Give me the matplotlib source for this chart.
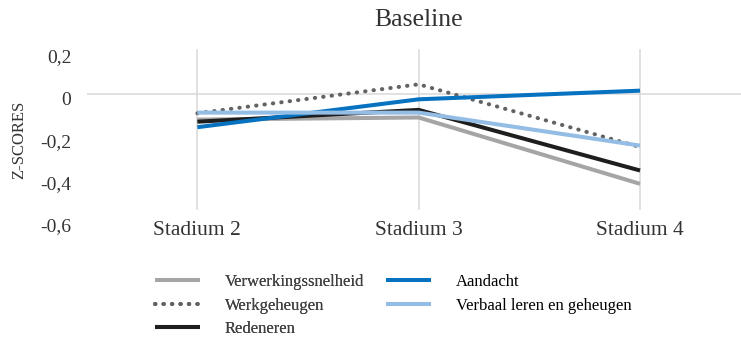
import matplotlib.pyplot as plt
from matplotlib.lines import Line2D
from matplotlib.transforms import ScaledTranslation

# data
stadia = ["Stadium 2", "Stadium 3", "Stadium 4"]
verwerkingssnelheid = [-0.12, -0.11, -0.424]
werkgeheugen = [-0.09, 0.047, -0.25]
redeneren = [-0.13, -0.074, -0.361]
aandacht = [-0.156, -0.024, 0.017]
verbaal = [-0.087, -0.087, -0.243]

y_ticks = [0.2, 0, -0.2, -0.4, -0.6]
y_labels = ["0,2", "0", "-0,2", "-0,4", "-0,6"]

plt.rcParams['font.family'] = ['Liberation Serif', 'DejaVu Serif']

fig = plt.figure(figsize=(7.41, 3.38), dpi=100)
ax = fig.add_axes([86.7 / 741, 117 / 338, 664 / 741, 169 / 338])

x = list(range(len(stadia)))

# gridlines: vertical at categories, horizontal axis line at zero
for xi in x:
    ax.axvline(xi, ymin=0.071, ymax=1.012, color='#d9d9d9', lw=1.1, zorder=0, clip_on=False)
ax.axhline(0, color='#d9d9d9', lw=1.1, zorder=0)

lw = 2.9
dots = (0, (0.1, 2.0))
ax.plot(x, verwerkingssnelheid, color='#a5a5a5', lw=lw, solid_capstyle='butt')
ax.plot(x, werkgeheugen, color='#636363', lw=lw, linestyle=dots, dash_capstyle='round')
ax.plot(x, redeneren, color='#1e1e1e', lw=lw, solid_capstyle='butt')
ax.plot(x, aandacht, color='#0672c0', lw=lw, solid_capstyle='butt')
ax.plot(x, verbaal, color='#94bde6', lw=lw, solid_capstyle='butt')

ax.set_xlim(-0.5, 2.5)
ax.set_ylim(-0.6, 0.2)
ax.set_xticks(x)
ax.set_xticklabels(stadia, fontsize=15.5, color='#333333')
ax.set_yticks(y_ticks)
ax.set_yticklabels(y_labels, fontsize=14, color='#333333')
ax.tick_params(axis='both', length=0)
ax.tick_params(axis='x', pad=0)
ax.tick_params(axis='y', pad=11)
for lbl in ax.get_yticklabels():
    lbl.set_transform(lbl.get_transform() + ScaledTranslation(0, -4 / 100, fig.dpi_scale_trans))
for s in ax.spines.values():
    s.set_visible(False)

ax.set_ylabel("Z-SCORES", fontsize=12, color='#333333')
ax.yaxis.set_label_coords(-0.09, 0.48)

fig.text(418.7 / 741, 1 - 20 / 338, "Baseline", ha='center', va='center',
         fontsize=18.5, color='#333333')

# legend in two columns, done as two legends to pin their positions
h1 = [Line2D([], [], color='#a5a5a5', lw=lw, solid_capstyle='butt'),
      Line2D([], [], color='#636363', lw=lw, linestyle=dots, dash_capstyle='round'),
      Line2D([], [], color='#1e1e1e', lw=lw, solid_capstyle='butt')]
h2 = [Line2D([], [], color='#0672c0', lw=lw, solid_capstyle='butt'),
      Line2D([], [], color='#94bde6', lw=lw, solid_capstyle='butt')]

leg_kw = dict(loc='upper left', frameon=False, fontsize=12, handlelength=2.7,
              handletextpad=1.5, labelspacing=0.45, borderpad=0, borderaxespad=0)
leg1 = fig.legend(h1, ["Verwerkingssnelheid", "Werkgeheugen", "Redeneren"],
                  bbox_to_anchor=(155 / 741, 1 - 274 / 338), labelcolor='#404040', **leg_kw)
leg2 = fig.legend(h2, ["Aandacht", "Verbaal leren en geheugen"],
                  bbox_to_anchor=(386 / 741, 1 - 274 / 338), labelcolor='#000000', **leg_kw)
fig.add_artist(leg1)

fig.savefig("out.png", dpi=100)
